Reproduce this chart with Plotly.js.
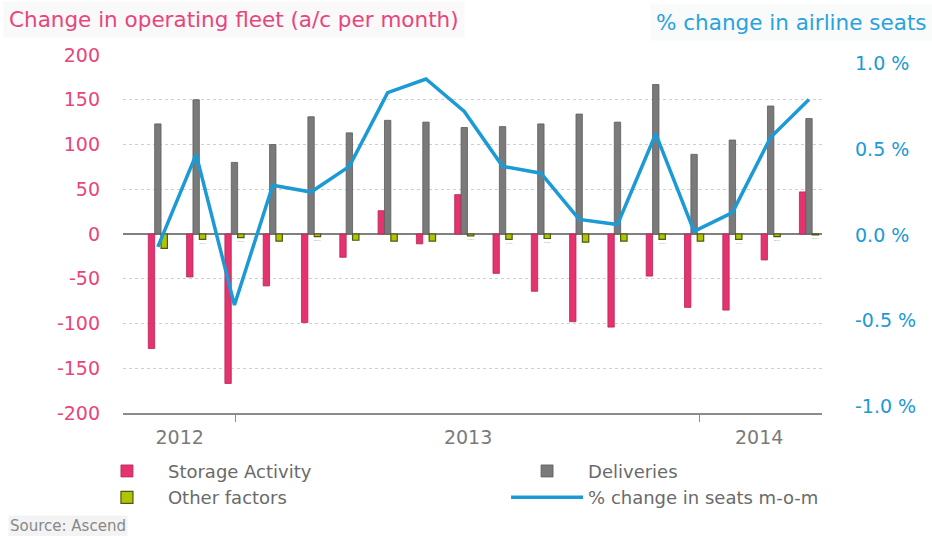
<!DOCTYPE html>
<html>
<head>
<meta charset="utf-8">
<script src="https://cdn.plot.ly/plotly-3.0.1.min.js"></script>
<style>html,body{margin:0;padding:0;background:#fff;}#chart{width:932px;height:536px;}</style>
</head>
<body>
<div id="chart"></div>
<script>
// Months Oct 2012 – Mar 2014
const months = ["Oct 2012","Nov 2012","Dec 2012","Jan 2013","Feb 2013","Mar 2013","Apr 2013","May 2013","Jun 2013","Jul 2013","Aug 2013","Sep 2013","Oct 2013","Nov 2013","Dec 2013","Jan 2014","Feb 2014","Mar 2014"];
const storageActivity = [-128,-48,-167,-58,-99,-26,26,-11,44,-44,-64,-98,-104,-47,-82,-85,-29,47];
const deliveries = [123,150,80,100,131,113,127,125,119,120,123,134,125,167,89,105,143,129];
const otherFactors = [-16,-6,-4,-8,-3,-7,-8,-8,-2,-6,-5,-9,-8,-6,-8,-6,-3,-1];
const seatsChange = [-0.07,0.47,-0.41,0.29,0.25,0.40,0.83,0.91,0.72,0.40,0.36,0.09,0.06,0.59,0.02,0.13,0.57,0.79];
const yearLabels = ["2012","2013","2014"];
const yearLabelPos = [0.57,8.1,15.7];
const yearBoundaryPos = [2.04,14.15];
const leftTicks = [-200,-150,-100,-50,0,50,100,150,200];
const leftTickText = leftTicks.map(v => String(v));
const rightTicks = [-1.0,-0.5,0.0,0.5,1.0];
const rightTickText = rightTicks.map(v => v.toFixed(1) + " %");

const xs = months.map((m,i) => i);
const FONT = "DejaVu Sans, Verdana, sans-serif";
const PINK = "#e4336f", GRAY = "#7a7a7a", GREEN = "#b0c400", BLUE = "#1b9ad6";

const data = [
  {type:"bar", name:"Storage Activity", x:xs, y:storageActivity, text:months, hoverinfo:"text+y", legend:"legend",
   marker:{color:PINK, line:{color:"#b8245a", width:0.8}}},
  {type:"bar", name:"Deliveries", x:xs, y:deliveries, text:months, hoverinfo:"text+y", legend:"legend2",
   marker:{color:GRAY, line:{color:"#5c5c5c", width:0.8}}},
  {type:"bar", name:"Other factors", x:xs, y:otherFactors, text:months, hoverinfo:"text+y", legend:"legend",
   marker:{color:GREEN, line:{color:"#4b5a14", width:1.2}}},
  {type:"scatter", mode:"lines", name:"% change in seats m-o-m", x:xs, y:seatsChange, yaxis:"y2", legend:"legend2",
   line:{color:BLUE, width:3.5}}
];

const legendCommon = {orientation:"v", xanchor:"left", yanchor:"top", itemwidth:72,
  font:{family:FONT, size:18, color:"#6a6a6a"}, bgcolor:"rgba(0,0,0,0)", traceorder:"normal", tracegroupgap:0};

const layout = {
  width:932, height:536,
  margin:{l:123, r:110, t:55, b:123, autoexpand:false},
  paper_bgcolor:"#fff", plot_bgcolor:"#fff",
  font:{family:FONT, size:18, color:"#777"},
  barmode:"group", bargap:0.5, bargroupgap:0,
  showlegend:true,
  legend:Object.assign({}, legendCommon, {x:-0.053, y:-0.111}),
  legend2:Object.assign({}, legendCommon, {x:0.548, y:-0.111}),
  xaxis:{range:[-0.91,17.34], tickmode:"array", tickvals:yearLabelPos, ticktext:yearLabels,
         ticks:"", showgrid:false, zeroline:false, showline:true, linecolor:"#8c8c8c", linewidth:1.5,
         tickfont:{family:FONT, size:19, color:"#7a7a7a"}, ticklabelstandoff:7,
         minor:{tickmode:"array", tickvals:yearBoundaryPos, ticks:"outside", ticklen:7, tickcolor:"#8c8c8c", tickwidth:1, showgrid:false},
         fixedrange:true},
  yaxis:{range:[-200,200], tickmode:"array", tickvals:leftTicks, ticktext:leftTickText, showgrid:true, gridcolor:"#cfcfcf", griddash:"dot", gridwidth:1,
         zeroline:true, zerolinecolor:"#808080", zerolinewidth:1.5, showline:false,
         tickfont:{family:FONT, size:19, color:"#e8457c"}, ticklabelstandoff:22, fixedrange:true},
  yaxis2:{overlaying:"y", side:"right", range:[-1.04,1.05], tickmode:"array", tickvals:rightTicks, ticktext:rightTickText,
          showgrid:false, zeroline:false, showline:false,
          tickfont:{family:FONT, size:19, color:BLUE}, ticklabelstandoff:32, fixedrange:true},
  annotations:[
    {xref:"paper", yref:"paper", x:-0.1717, y:1.0, xanchor:"left", yanchor:"middle", yshift:36, showarrow:false,
     text:"Change in operating fleet (a/c per month)", font:{family:FONT, size:21.5, color:"#e8457c"},
     bgcolor:"#f9f9f9", borderpad:5},
    {xref:"paper", yref:"paper", x:1.1588, y:1.0, xanchor:"right", yanchor:"middle", yshift:33, showarrow:false,
     text:"% change in airline seats", font:{family:FONT, size:21.5, color:"#28a3de"},
     bgcolor:"#f9fafa", borderpad:5},
    {xref:"paper", yref:"paper", x:-0.1645, y:-0.3156, xanchor:"left", yanchor:"middle", showarrow:false,
     text:"Source: Ascend", font:{family:FONT, size:15, color:"#888"}, bgcolor:"#f3f3f3"}
  ]
};

Plotly.newPlot("chart", data, layout, {displayModeBar:false, staticPlot:true});
</script>
</body>
</html>
